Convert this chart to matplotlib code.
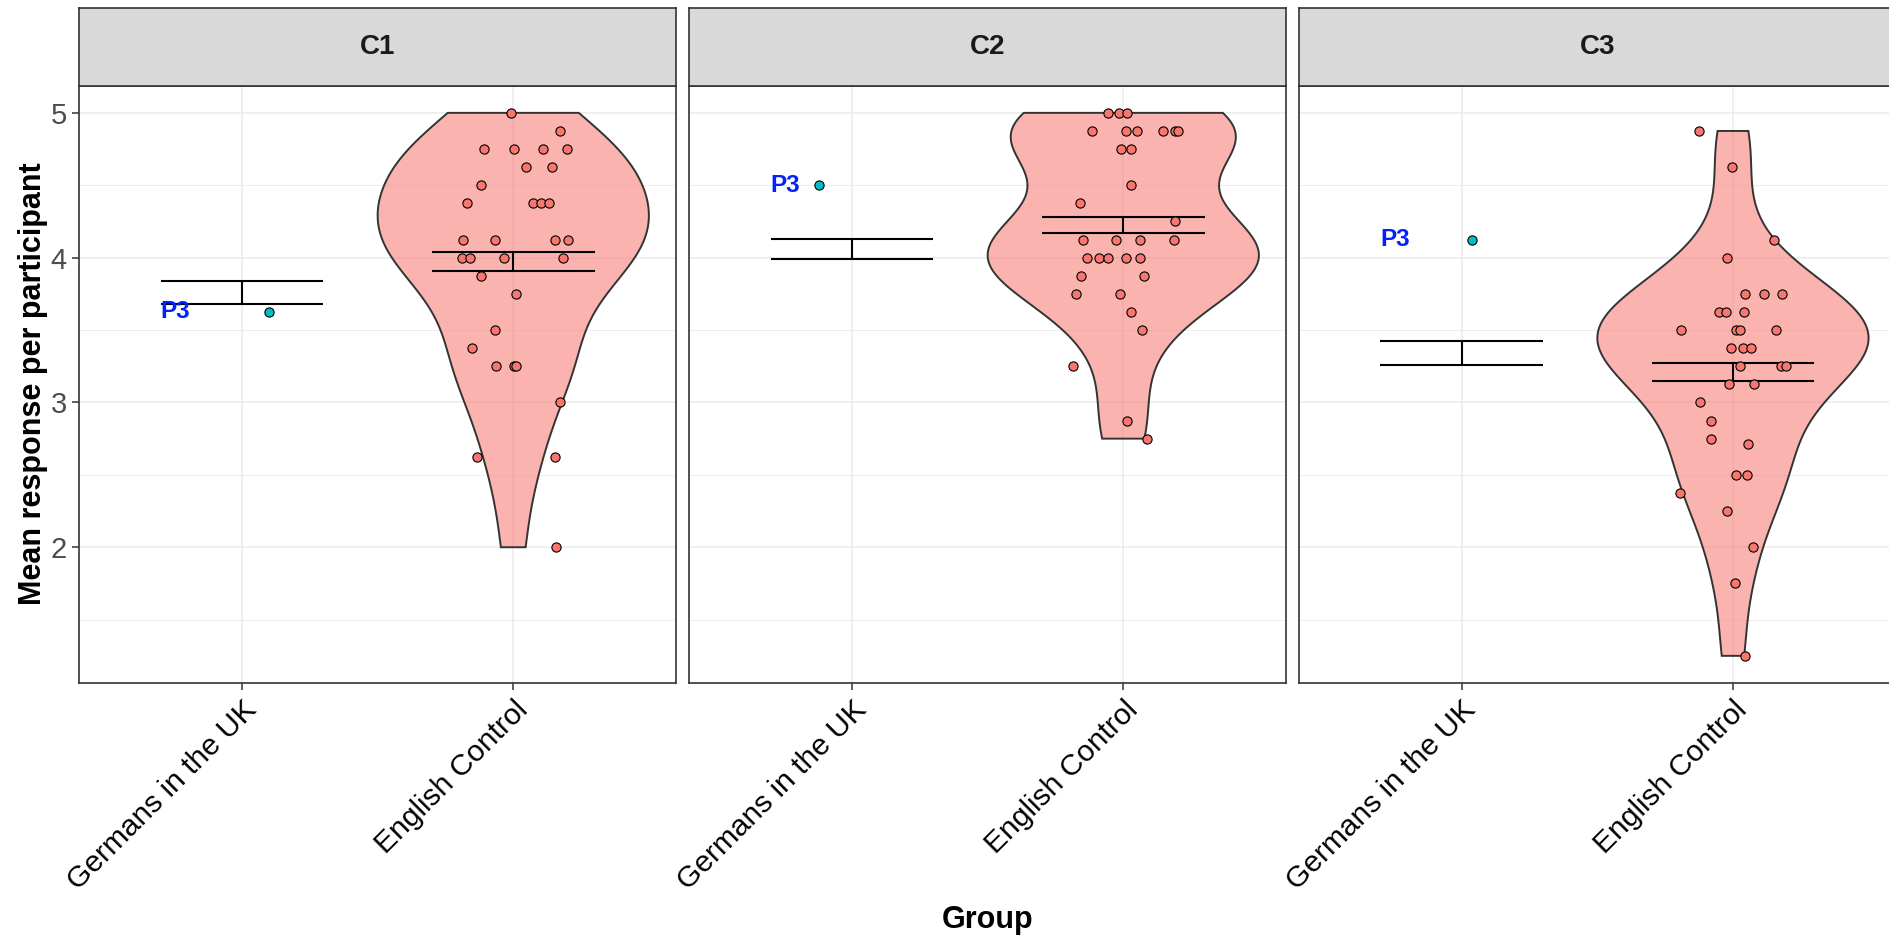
import numpy as np
import matplotlib
matplotlib.use('Agg')
import matplotlib.pyplot as plt

plt.rcParams['font.family'] = ['Liberation Sans', 'DejaVu Sans']

conditions = ['C1', 'C2', 'C3']
groups = ['Germans in the UK', 'English Control']

# mean response per participant, English Control group, and the jitter
c1_english = [5.0, 4.875, 4.75, 4.75, 4.75, 4.75, 4.625, 4.625, 4.5,
              4.375, 4.375, 4.375, 4.375, 4.125, 4.125, 4.125, 4.125,
              4.0, 4.0, 4.0, 4.0, 3.875, 3.75, 3.5, 3.375, 3.25, 3.25, 3.25,
              3.0, 2.625, 2.625, 2.0]
c1_jitter = [-0.007, 0.174, -0.109, 0.001, 0.111, 0.197, 0.048, 0.143, -0.118,
             -0.171, 0.072, 0.103, 0.133, -0.184, -0.067, 0.154, 0.2,
             -0.188, -0.16, -0.034, 0.182, -0.12, 0.011, -0.066, -0.152, -0.062, 0.002, 0.009,
             0.171, -0.135, 0.153, 0.158]

c2_english = [5.0, 5.0, 5.0, 4.875, 4.875, 4.875, 4.875, 4.875, 4.875,
              4.75, 4.75, 4.5, 4.375, 4.25, 4.125, 4.125, 4.125, 4.125,
              4.0, 4.0, 4.0, 4.0, 4.0, 3.875, 3.875, 3.75, 3.75, 3.625, 3.5,
              3.25, 2.875, 2.75]
c2_jitter = [-0.055, -0.016, 0.015, -0.116, 0.01, 0.049, 0.147, 0.191, 0.2,
             -0.009, 0.027, 0.029, -0.159, 0.19, -0.147, -0.028, 0.062, 0.186,
             -0.135, -0.088, -0.056, 0.011, 0.062, -0.154, 0.078, -0.175, -0.012, 0.028, 0.07,
             -0.187, 0.015, 0.086]

c3_english = [4.875, 4.625, 4.125, 4.0, 3.75, 3.75, 3.75, 3.625, 3.625, 3.625,
              3.5, 3.5, 3.5, 3.5, 3.375, 3.375, 3.375, 3.25, 3.25, 3.25,
              3.125, 3.125, 3.0, 2.875, 2.75, 2.71, 2.5, 2.5, 2.375, 2.25,
              2.0, 1.75, 1.25]
c3_jitter = [-0.126, -0.005, 0.153, -0.023, 0.045, 0.114, 0.181, -0.051, -0.027, 0.042,
             -0.193, 0.012, 0.027, 0.157, -0.007, 0.037, 0.067, 0.027, 0.177, 0.195,
             -0.016, 0.077, -0.122, -0.08, -0.082, 0.056, 0.01, 0.051, -0.195, -0.022,
             0.073, 0.009, 0.045]

# single German participant (P3)
p3_values = [3.625, 4.5, 4.125]
p3_jitter = [0.098, -0.122, 0.038]

# error bars (low / high)
german_err_low = [3.683, 3.993, 3.258]
german_err_high = [3.837, 4.127, 3.425]
english_err_low = [3.906, 4.170, 3.147]
english_err_high = [4.039, 4.283, 3.271]

english_vals = [c1_english, c2_english, c3_english]
english_jit = [c1_jitter, c2_jitter, c3_jitter]


def bw_nrd0(x):
    x = np.asarray(x)
    sd = x.std(ddof=1)
    iqr = np.percentile(x, 75) - np.percentile(x, 25)
    lo = min(sd, iqr / 1.34)
    return 0.9 * lo * len(x) ** -0.2


def kde(x, grid):
    x = np.asarray(x)
    h = bw_nrd0(x)
    z = (grid[:, None] - x[None, :]) / h
    return np.exp(-0.5 * z ** 2).sum(axis=1) / (len(x) * h * np.sqrt(2 * np.pi))


W, H = 1890, 938
fig = plt.figure(figsize=(W / 100, H / 100), dpi=100)

pw = 596.7 / W
lefts = [79.3 / W, 689.3 / W, 1299.0 / W]
bottom = (H - 683) / H
ph = (683 - 85.7) / H
strip_h = (85.7 - 7.5) / H

edge = '#333333'
for i, cond in enumerate(conditions):
    ax = fig.add_axes([lefts[i], bottom, pw, ph])
    ax.set_xlim(0.4, 2.6)
    ax.set_ylim(1.0625, 5.1875)

    # grid
    ax.set_xticks([1, 2])
    ax.set_yticks([2, 3, 4, 5])
    ax.set_yticks([1.5, 2.5, 3.5, 4.5], minor=True)
    ax.grid(which='major', color='#EBEBEB', lw=1.1, zorder=0)
    ax.grid(which='minor', axis='y', color='#EBEBEB', lw=0.6, zorder=0)
    ax.set_axisbelow(True)

    # violin for English Control
    vals = english_vals[i]
    yg = np.linspace(min(vals), max(vals), 512)
    d = kde(vals, yg)
    half = d / d.max() * 0.5
    xs = np.concatenate([2 - half, (2 + half)[::-1]])
    ys = np.concatenate([yg, yg[::-1]])
    ax.fill(xs, ys, facecolor=(0.973, 0.463, 0.427, 0.55), edgecolor=edge, lw=1.4, zorder=2)

    # points
    ax.scatter(2 + np.array(english_jit[i]), vals, s=44, c='#F8766D',
               edgecolors='black', linewidths=0.8, zorder=4)
    ax.scatter([1 + p3_jitter[i]], [p3_values[i]], s=44, c='#00BFC4',
               edgecolors='black', linewidths=0.8, zorder=4)
    ax.text(1 - 0.245, p3_values[i], 'P3', color='#0022FF', fontweight='bold',
            fontsize=17.5, ha='center', va='center', zorder=5)

    # error bars
    for x, lo, hi in [(1, german_err_low[i], german_err_high[i]),
                      (2, english_err_low[i], english_err_high[i])]:
        ax.hlines([lo, hi], x - 0.3, x + 0.3, color='black', lw=1.5, zorder=3)
        ax.vlines(x, lo, hi, color='black', lw=1.5, zorder=3)

    for s in ax.spines.values():
        s.set_color(edge)
        s.set_linewidth(1.2)

    ax.set_xticklabels(groups, rotation=45, ha='right', va='top',
                       rotation_mode='anchor', fontsize=21.5, color='black')
    ax.tick_params(axis='x', length=5, width=1.1, color=edge, pad=4)
    ax.tick_params(which='minor', length=0)
    if i == 0:
        ax.tick_params(axis='y', length=5, width=1.1, color=edge,
                       labelsize=21, labelcolor='#4D4D4D', pad=4)
    else:
        ax.tick_params(axis='y', left=False, labelleft=False)

    # facet strip
    sax = fig.add_axes([lefts[i], bottom + ph, pw, strip_h])
    sax.set_facecolor('#D9D9D9')
    sax.set_xticks([])
    sax.set_yticks([])
    for s in sax.spines.values():
        s.set_color(edge)
        s.set_linewidth(1.2)
    sax.text(0.5, 0.5, cond, transform=sax.transAxes, ha='center', va='center',
             fontsize=20, fontweight='bold', color='#1A1A1A')

fig.text(33 / W, 1 - 384 / H, 'Mean response per participant', rotation=90,
         ha='center', va='center', fontsize=22, fontweight='bold')
fig.text(987.5 / W, 1 - 920 / H, 'Group', ha='center', va='center',
         fontsize=22, fontweight='bold')

fig.savefig('out.png', dpi=100, facecolor='white')
